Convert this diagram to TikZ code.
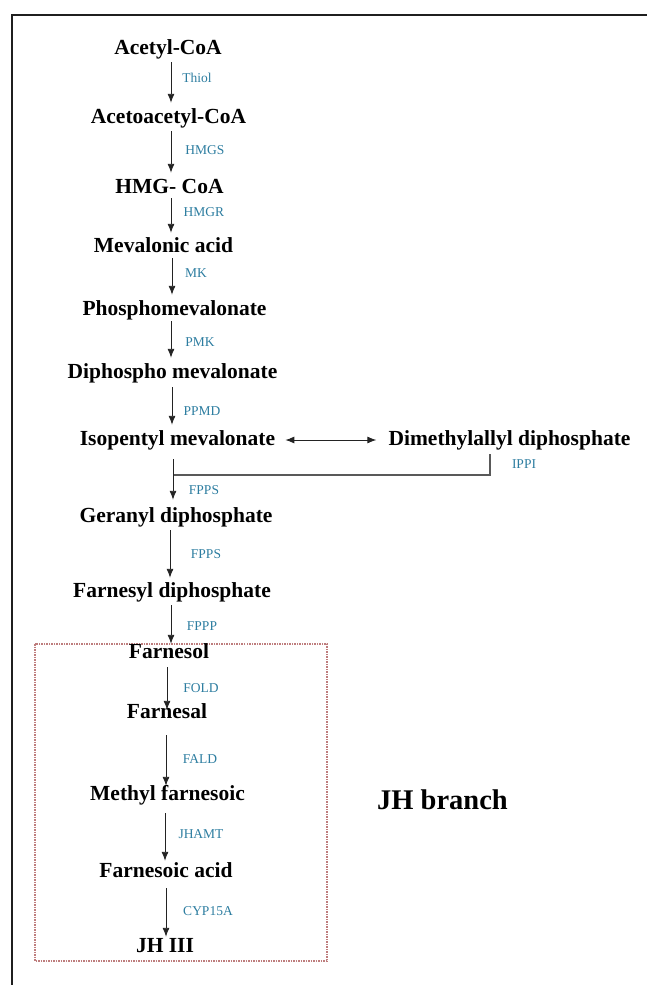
\documentclass[tikz,border=0pt]{standalone}
\usepackage{fontspec}
\setmainfont{Liberation Serif}
\usetikzlibrary{arrows.meta}
\definecolor{enz}{RGB}{45,125,160}
\definecolor{boxred}{RGB}{190,125,125}
\definecolor{arrgray}{RGB}{35,35,35}
\tikzset{
  met/.style={font=\fontsize{21.5}{24}\selectfont\bfseries, inner sep=0pt, text height=14pt, text depth=4pt, anchor=center},
  enzlab/.style={font=\fontsize{13.5}{15}\selectfont, text=enz, inner sep=0pt, anchor=center},
  tip/.tip={Latex[length=9pt,width=7pt]},
  arr/.style={draw=arrgray, line width=0.9pt, -tip, shorten <=4pt, shorten >=6pt},
  dblarr/.style={draw=arrgray, line width=0.9pt, tip-tip},
  bracketline/.style={draw=black!65, line width=1.2pt},
}
\begin{document}
\begin{tikzpicture}[x=1pt,y=-1pt]
\useasboundingbox (0,0) rectangle (647,985);
% outer frame
\draw[line width=2.6pt, black!88] (647,15) -- (12,15) -- (12,985);
% JH branch box
\draw[boxred, line width=1.1pt, dash pattern=on 1.5pt off 1pt] (35,644) rectangle (327,961);

% metabolites
\node[met] (acetyl) at (168,49) {Acetyl-CoA};
\node[met] (aceto) at (168.5,118) {Acetoacetyl-CoA};
\node[met] (hmg) at (169.5,188) {HMG- CoA};
\node[met] (meva) at (163.5,247) {Mevalonic acid};
\node[met] (phos) at (174.5,310) {Phosphomevalonate};
\node[met] (diph) at (172.5,373) {Diphospho mevalonate};
\node[met] (ipm) at (177.5,440) {Isopentyl mevalonate};
\node[met] (dma) at (509.5,440) {Dimethylallyl diphosphate};
\node[met] (ger) at (176,517) {Geranyl diphosphate};
\node[met] (far) at (172,592) {Farnesyl diphosphate};
\node[met] (fol) at (169,653) {Farnesol};
\node[met] (fal) at (167,713) {Farnesal};
\node[met] (mef) at (167.5,795) {Methyl farnesoic};
\node[met] (fac) at (166,872) {Farnesoic acid};
\node[met] (jh) at (165,947) {JH III};
\node[font=\fontsize{28.5}{32}\selectfont\bfseries, inner sep=0pt] (branch) at (442.5,800) {JH branch};

% enzymes
\node[enzlab] (e1) at (197,78) {Thiol};
\node[enzlab] (e2) at (205,150) {HMGS};
\node[enzlab] (e3) at (204,212) {HMGR};
\node[enzlab] (e4) at (196,273) {MK};
\node[enzlab] (e5) at (200,342) {PMK};
\node[enzlab] (e6) at (202,411) {PPMD};
\node[enzlab] (e7) at (524,464) {IPPI};
\node[enzlab] (e8) at (204,490) {FPPS};
\node[enzlab] (e9) at (206,554) {FPPS};
\node[enzlab] (e10) at (202,626) {FPPP};
\node[enzlab] (e11) at (201,688) {FOLD};
\node[enzlab] (e12) at (200,759) {FALD};
\node[enzlab] (e13) at (201,834) {JHAMT};
\node[enzlab] (e14) at (208,911) {CYP15A};

% main chain arrows
\draw[arr] (acetyl.south -| 171,0) -- (aceto.north -| 171,0);
\draw[arr] (aceto.south -| 171,0) -- (hmg.north -| 171,0);
\draw[arr, shorten <=1pt, shorten >=5pt] (hmg.south -| 171,0) -- (meva.north -| 171,0);
\draw[arr, shorten <=2pt] (meva.south -| 172,0) -- (phos.north -| 172,0);
\draw[arr, shorten <=2pt] (phos.south -| 171,0) -- (diph.north -| 171,0);
\draw[arr, shorten <=5pt] (diph.south -| 172,0) -- (ipm.north -| 172,0);
% isomerisation
\draw[dblarr, shorten <=10pt, shorten >=12pt] (ipm.east) -- (dma.west);
\coordinate (join) at (173,475);
\draw[bracketline, shorten <=5pt] (dma.south -| 490,0) |- (join);
\draw[arr, shorten <=10pt, shorten >=8pt] (ipm.south -| join) -- (ger.north -| join);
\draw[arr, shorten <=4pt, shorten >=5pt] (ger.south -| 170,0) -- (far.north -| 170,0);
\draw[arr, shorten <=4pt, shorten >=0pt] (far.south -| 171,0) -- (fol.north -| 171,0);
\draw[arr, shorten <=5pt, shorten >=-6pt] (fol.south -| 167,0) -- (fal.north -| 167,0);
\draw[arr, shorten <=13pt, shorten >=0pt] (fal.south -| 166,0) -- (mef.north -| 166,0);
\draw[arr, shorten <=9pt, shorten >=2pt] (mef.south -| 165,0) -- (fac.north -| 165,0);
\draw[arr, shorten <=7pt, shorten >=1pt] (fac.south -| 166,0) -- (jh.north -| 166,0);
\end{tikzpicture}
\end{document}
